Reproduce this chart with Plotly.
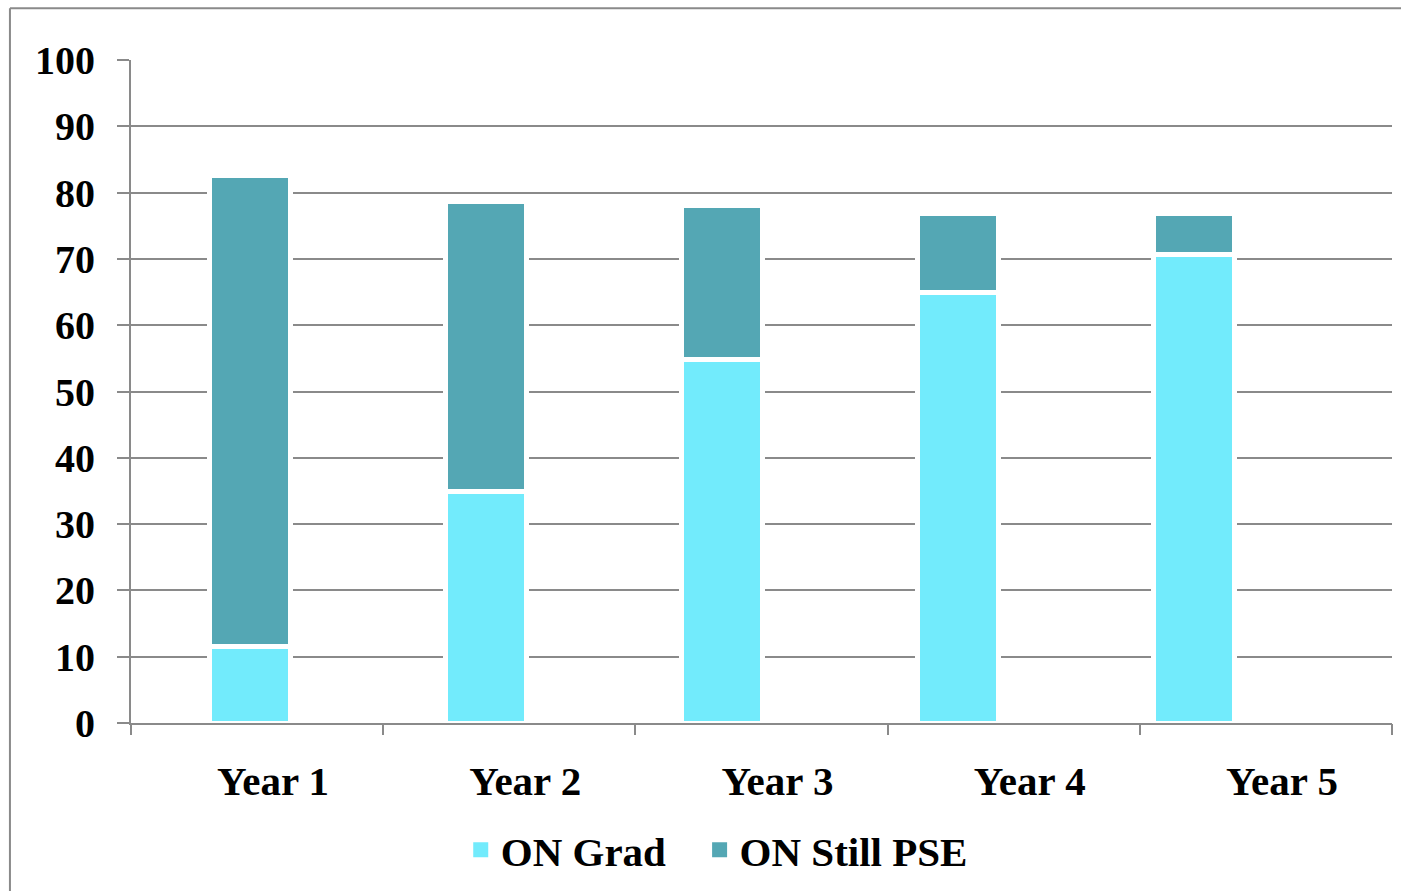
import plotly.graph_objects as go

categories = ["Year 1", "Year 2", "Year 3", "Year 4", "Year 5"]
on_grad = [11.5, 34.9, 54.8, 64.9, 70.6]
on_still_pse = [71.1, 43.8, 23.3, 12.0, 6.3]
y_ticks = [0, 10, 20, 30, 40, 50, 60, 70, 80, 90, 100]
series_names = ["ON Grad", "ON Still PSE"]

GRAD_COLOR = "#72EBFC"
STILL_COLOR = "#54A7B4"
GRID = "#8a8a8a"
FAM = "Liberation Serif, Times New Roman, serif"
AXFONT = dict(family=FAM, size=40, color="black", weight="bold")
XFONT = dict(family=FAM, size=41, color="black", weight="bold")

fig = go.Figure()
fig.add_trace(go.Bar(x=categories, y=on_grad, name=series_names[0], showlegend=False,
                     marker=dict(color=GRAD_COLOR, line=dict(color="white", width=5)), width=0.343))
fig.add_trace(go.Bar(x=categories, y=on_still_pse, name=series_names[1], showlegend=False,
                     marker=dict(color=STILL_COLOR, line=dict(color="white", width=5)), width=0.343))
# legend entries (no data drawn), attached to the label axis
pads = ["\u00a0\u00a0\u2009", ""]
for nm, col, pad in zip(series_names, [GRAD_COLOR, STILL_COLOR], pads):
    fig.add_trace(go.Scatter(x=[None], y=[None], mode="markers", name=nm + pad, xaxis="x2",
                             marker=dict(symbol="square", size=15, color=col)))

fig.update_layout(
    barmode="stack",
    width=1401, height=891,
    margin=dict(l=131, r=9, t=60, b=167),
    paper_bgcolor="white", plot_bgcolor="white",
    font=AXFONT,
    xaxis=dict(type="category", categoryarray=categories, range=[-0.504, 4.839],
               showticklabels=False, ticks="", showgrid=False,
               showline=True, linecolor=GRID, linewidth=2, zeroline=False),
    xaxis2=dict(overlaying="x", side="bottom", range=[0, 5], showgrid=False, zeroline=False,
                tickmode="array", tickvals=[0.5, 1.5, 2.5, 3.5, 4.5], ticktext=categories,
                ticks="", ticklabelstandoff=30, ticklabelshift=16,
                minor=dict(tickmode="array", tickvals=[0, 1, 2, 3, 4, 5], ticks="outside", ticklen=11, tickwidth=2, tickcolor=GRID),
                tickfont=XFONT, showline=False, fixedrange=True),
    yaxis=dict(range=[0, 100], tickmode="array", tickvals=y_ticks, ticks="outside", ticklen=12, tickwidth=2,
               tickcolor=GRID, showgrid=True, gridcolor=GRID, gridwidth=2, showline=True, linecolor=GRID,
               linewidth=2, zeroline=False, ticklabelstandoff=14, tickfont=AXFONT),
    legend=dict(orientation="h", x=0.4645, xanchor="center", y=-0.19, yanchor="middle",
                font=dict(family=FAM, size=41, color="black", weight="bold"),
                traceorder="normal"),
    shapes=[
        dict(type="line", xref="paper", yref="paper", x0=-0.096, x1=1.01, y0=1.078, y1=1.078, line=dict(color=GRID, width=2)),
        dict(type="line", xref="paper", yref="paper", x0=-0.096, x1=-0.096, y0=1.078, y1=-0.26, line=dict(color=GRID, width=2)),
    ],
    showlegend=True,
)

fig.write_html("out.html", config={"displayModeBar": False},
               post_script="document.body.style.margin='0';document.body.style.overflow='hidden';")
